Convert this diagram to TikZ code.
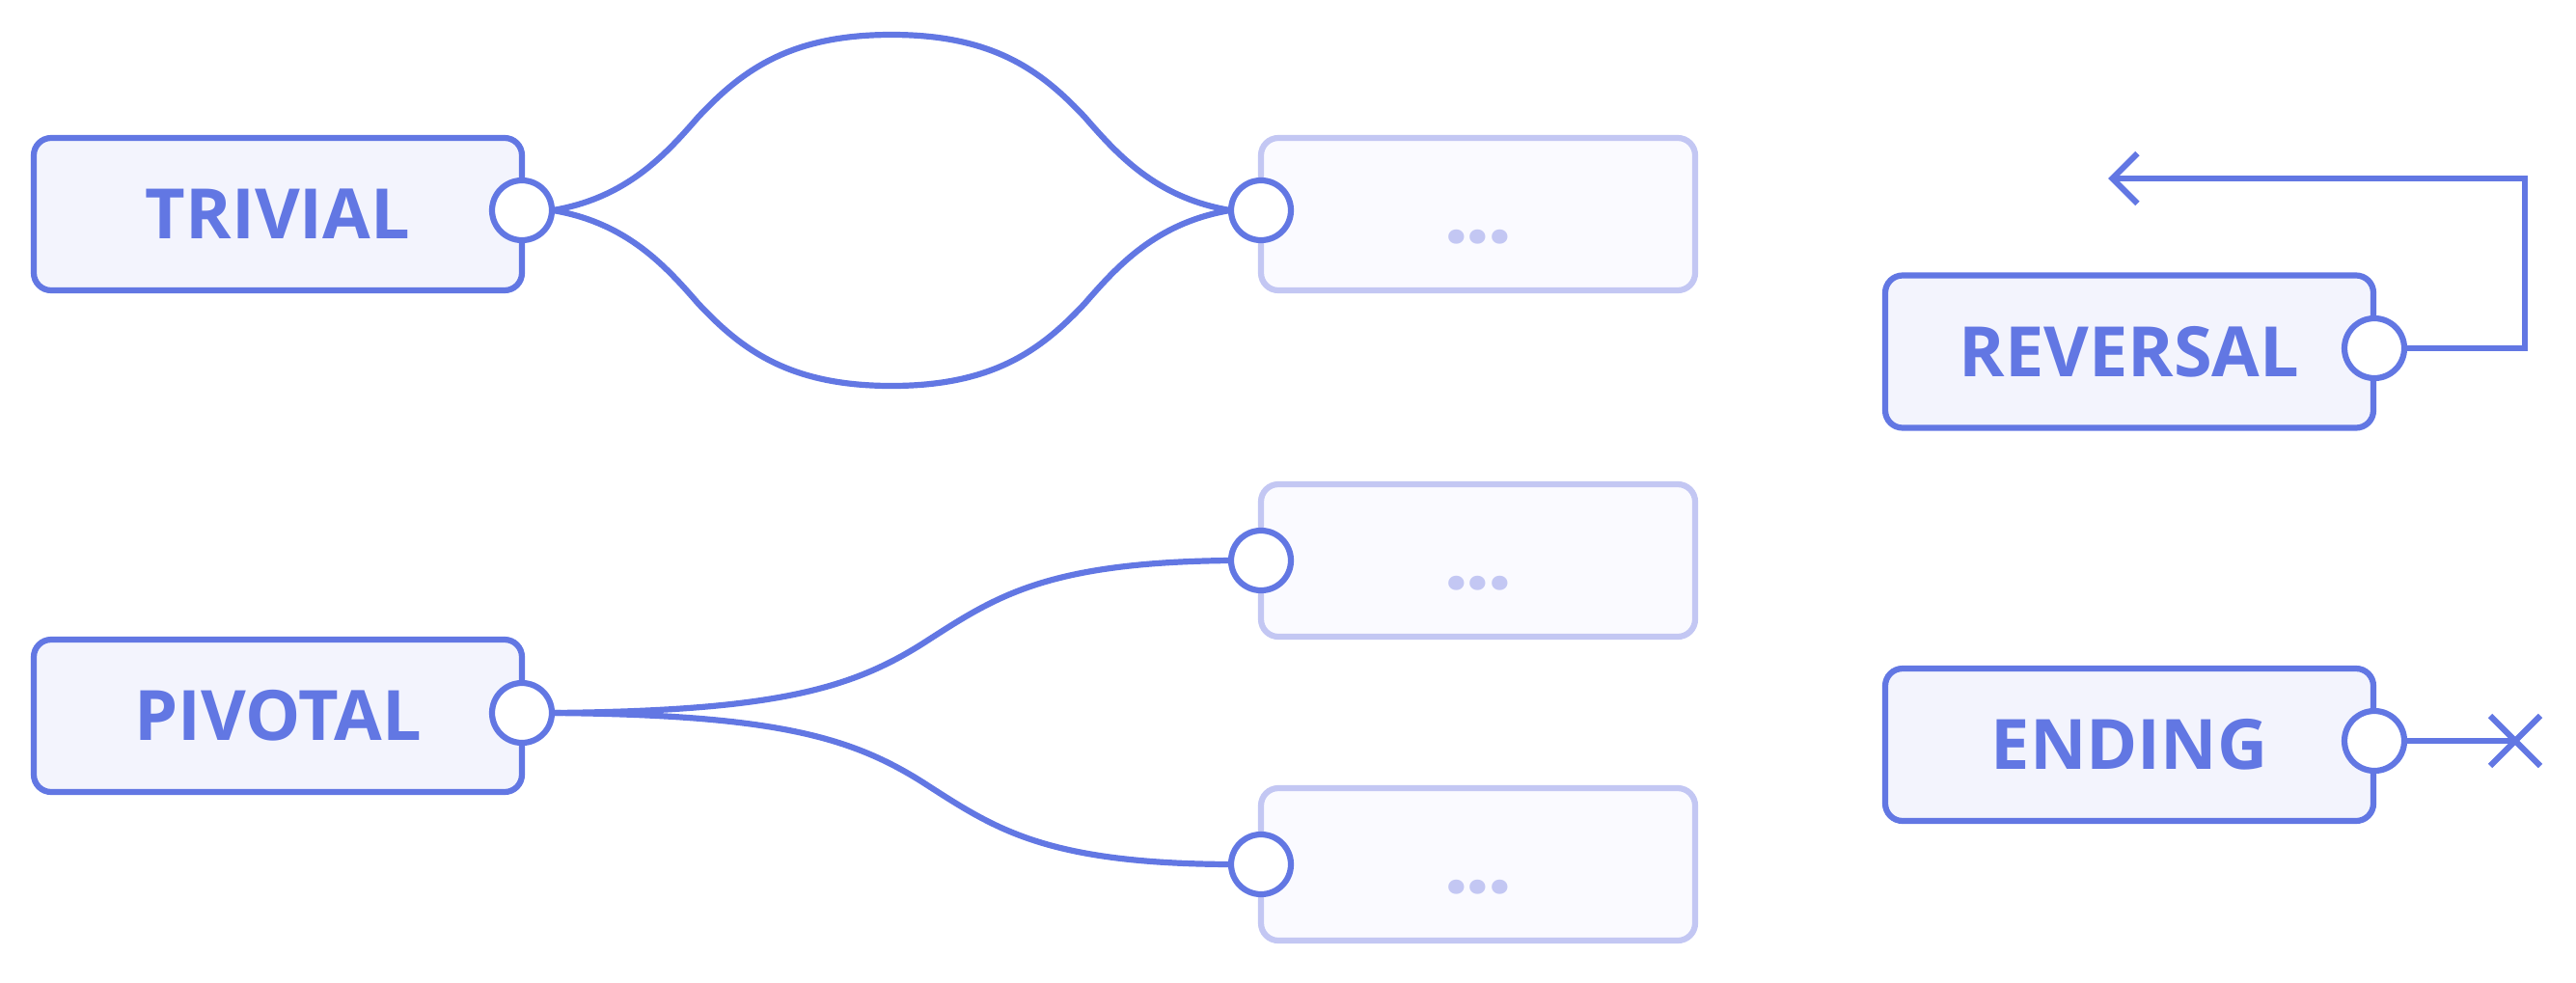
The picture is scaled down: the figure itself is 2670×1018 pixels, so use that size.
\documentclass[tikz,border=0pt]{standalone}
\usepackage{fontspec}
\usetikzlibrary{arrows.meta}
\newfontfamily\lblfont{Open Sans}
\newfontfamily\dotfont{Poppins}
\definecolor{main}{HTML}{6277E3}
\definecolor{boxfill}{HTML}{F3F4FD}
\definecolor{ghostline}{HTML}{C3C7F3}
\definecolor{ghostfill}{HTML}{FAFAFF}
\tikzset{
  mainbox/.style={draw=main, fill=boxfill, line width=3.1pt, rounded corners=9pt,
    minimum width=253pt, minimum height=79pt, inner sep=0pt, text=main,
    font=\lblfont\bfseries\fontsize{36}{36}\selectfont},
  ghostbox/.style={draw=ghostline, fill=ghostfill, line width=3.1pt, rounded corners=9pt,
    minimum width=225pt, minimum height=79pt, inner sep=0pt},
  dotlabel/.style={text=ghostline, font=\dotfont\bfseries\fontsize{40}{40}\selectfont, anchor=base, inner sep=0pt},
  port/.style={circle, draw=main, fill=white, line width=3.1pt, minimum size=31pt, inner sep=0pt},
  wire/.style={draw=main, line width=3.1pt}
}
\begin{document}
\begin{tikzpicture}[x=0.5pt,y=-0.5pt]
\useasboundingbox (0,0) rectangle (2670,1018);
% left boxes
\node[mainbox] (trivial) at (288,222) {\raisebox{-1.5pt}{TRIVIAL}};
\node[mainbox] (pivotal) at (288,742) {\raisebox{-1.5pt}{PIVOTAL}};
% ghost boxes
\node[ghostbox] (g1) at (1532,222) {};
\node[ghostbox] (g2) at (1532,581) {};
\node[ghostbox] (g3) at (1532,896) {};
\node[dotlabel] (d1) at (1532,252) {...};
\node[dotlabel] (d2) at (1532,611) {...};
\node[dotlabel] (d3) at (1532,926) {...};
% right boxes
\node[mainbox] (reversal) at (2207,364.5) {\raisebox{-1.5pt}{REVERSAL}};
\node[mainbox] (ending) at (2207,772) {\raisebox{-1.5pt}{ENDING}};
% wires
\draw[wire] (573,218) .. controls (650,205) and (690,160) .. (724,121)
  .. controls (770,72) and (820,36) .. (924,36)
  .. controls (1028,36) and (1078,72) .. (1124,121)
  .. controls (1158,160) and (1198,205) .. (1275,218);
\draw[wire] (573,218) .. controls (650,231) and (690,276) .. (724,315)
  .. controls (770,364) and (820,400) .. (924,400)
  .. controls (1028,400) and (1078,364) .. (1124,315)
  .. controls (1158,276) and (1198,231) .. (1275,218);
\draw[wire] (573,739) .. controls (800,737) and (880,715) .. (955,668)
  .. controls (1030,620) and (1080,583) .. (1275,581);
\draw[wire] (573,739) .. controls (800,741) and (880,763) .. (955,810)
  .. controls (1030,858) and (1080,895) .. (1275,896);
% ports
\node[port] (tp) at (541,218) {};
\node[port] (pp) at (541,739) {};
\node[port] (g1p) at (1307,218) {};
\node[port] (g2p) at (1307,581) {};
\node[port] (g3p) at (1307,896) {};
\node[port] (rp) at (2461,361) {};
\node[port] (ep) at (2461,768) {};
% reversal loop
\coordinate (rtop) at (2617,185);
\coordinate (atip) at (2185,185);
\draw[wire, -{Straight Barb[length=13pt,width=26pt]}] (rp.east) -| (rtop) -- (atip);
% ending
\coordinate (xend) at (2607,768);
\draw[wire] (ep.east) -- (xend);
\draw[wire] (xend) ++(-26,-26) -- ++(52,52);
\draw[wire] (xend) ++(-26,26) -- ++(52,-52);
\end{tikzpicture}
\end{document}
